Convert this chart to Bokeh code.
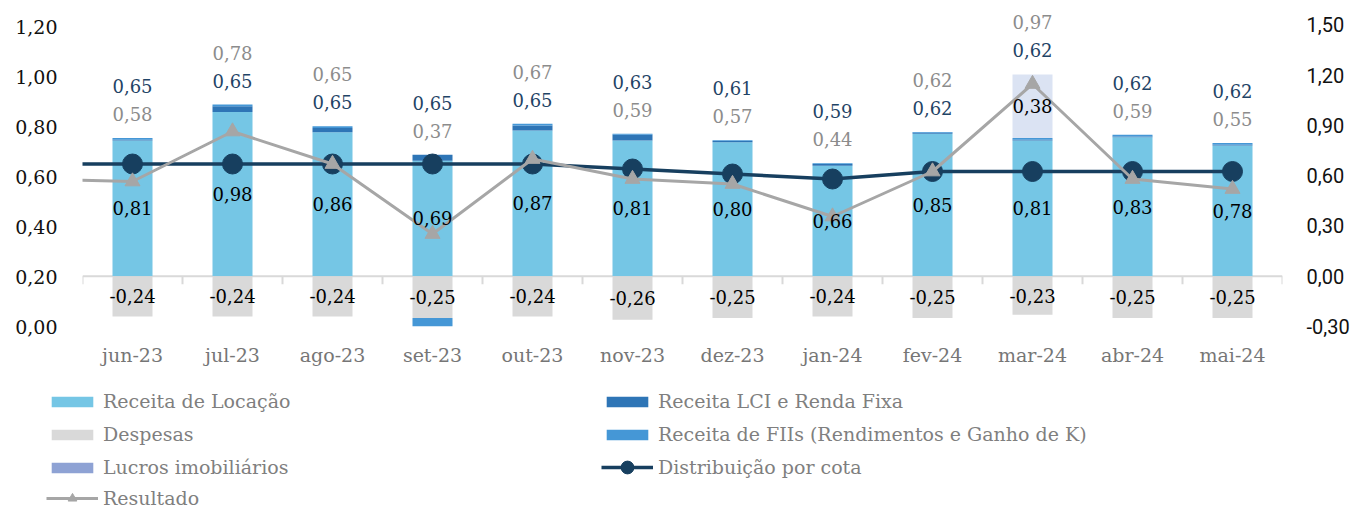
from bokeh.plotting import figure
from bokeh.layouts import column
from bokeh.models import (Range1d, LinearAxis, FixedTicker, CustomJSTickFormatter,
                          ColumnDataSource, Legend, LegendItem, Span)
from bokeh.core.properties import value
from bokeh.embed import file_html
from bokeh.resources import INLINE

# ---------------- data ----------------
months = ["jun-23", "jul-23", "ago-23", "set-23", "out-23", "nov-23",
          "dez-23", "jan-24", "fev-24", "mar-24", "abr-24", "mai-24"]
receita_locacao = [0.81, 0.98, 0.86, 0.69, 0.87, 0.81, 0.80, 0.66, 0.85, 0.81, 0.83, 0.78]
receita_lci = [0.005, 0.035, 0.025, 0.035, 0.03, 0.035, 0.007, 0.01, 0.006, 0.005, 0.005, 0.005]
receita_fii = [0.01, 0.01, 0.01, -0.10, 0.01, 0.005, 0.005, 0.005, 0.005, 0.01, 0.01, 0.01]
lucros_imob = [0, 0, 0, 0, 0, 0, 0, 0, 0, 0.38, 0, 0]
despesas = [-0.24, -0.24, -0.24, -0.25, -0.24, -0.26, -0.25, -0.24, -0.25, -0.23, -0.25, -0.25]
distribuicao = [0.65, 0.65, 0.65, 0.65, 0.65, 0.63, 0.61, 0.59, 0.62, 0.62, 0.62, 0.62]
resultado = [0.58, 0.78, 0.65, 0.37, 0.67, 0.59, 0.57, 0.44, 0.62, 0.97, 0.59, 0.55]
# previous month (mai-23), only visible as the line entering from the left edge
prev_distribuicao = 0.65
prev_resultado = 0.59

left_ticks = [0.0, 0.2, 0.4, 0.6, 0.8, 1.0, 1.2]
right_ticks = [-0.3, 0.0, 0.3, 0.6, 0.9, 1.2, 1.5]

# ---------------- styles ----------------
C_LOC = "#75c6e5"
C_LCI = "#2e75b6"
C_FII = "#4597d6"
C_DESP = "#d9d9d9"
C_LUC = "#8ea2d4"
C_LUC_BAR = "#dbe3f3"
C_DIST = "#173f5f"
C_RES = "#a6a6a6"
SERIF = "DejaVu Serif"


def fmt(v):
    return f"{v:.2f}".replace(".", ",")


n = len(months)
xs = list(range(n))

lci_bottom = list(receita_locacao)
lci_top = [a + b for a, b in zip(receita_locacao, receita_lci)]
fii_bottom = [t if f >= 0 else d + f for t, f, d in zip(lci_top, receita_fii, despesas)]
fii_top = [t + f if f >= 0 else d for t, f, d in zip(lci_top, receita_fii, despesas)]
luc_bottom = [t + max(f, 0) for t, f in zip(lci_top, receita_fii)]
luc_top = [b + l for b, l in zip(luc_bottom, lucros_imob)]

src = ColumnDataSource(dict(
    x=xs, zero=[0] * n,
    loc=receita_locacao, lci_b=lci_bottom, lci_t=lci_top,
    fii_b=fii_bottom, fii_t=fii_top, luc_b=luc_bottom, luc_t=luc_top,
    desp=despesas, dist=distribuicao, res=resultado,
))

# frame: 324 px tall; left axis 250 px/unit, right axis 167.5 px/unit
p = figure(width=1360, height=378, output_backend="svg", toolbar_location=None,
           x_range=Range1d(-0.5, n - 0.5), y_range=Range1d(0, 1.296),
           min_border_left=82, min_border_right=78, min_border_top=2,
           min_border_bottom=52)
p.frame_align = False
p.extra_y_ranges = {"right": Range1d(-0.3, 1.6343)}
p.outline_line_color = None
p.xgrid.visible = False
p.ygrid.visible = False
p.background_fill_color = "white"
p.border_fill_color = "white"

# axes
fmt_js = "return tick.toFixed(2).replace('.', ',');"
p.yaxis.ticker = FixedTicker(ticks=left_ticks)
p.yaxis.formatter = CustomJSTickFormatter(code=fmt_js)
for ax in p.yaxis:
    ax.axis_line_color = None
    ax.major_tick_line_color = None
    ax.minor_tick_line_color = None
    ax.major_tick_out = 0
    ax.major_tick_in = 0
    ax.major_label_standoff = 25
    ax.major_label_text_font = SERIF
    ax.major_label_text_font_size = "19px"
    ax.major_label_text_color = "#111111"

raxis = LinearAxis(y_range_name="right", ticker=FixedTicker(ticks=right_ticks),
                   formatter=CustomJSTickFormatter(code=fmt_js))
raxis.axis_line_color = None
raxis.major_tick_line_color = None
raxis.minor_tick_line_color = None
raxis.major_tick_out = 0
raxis.major_tick_in = 0
raxis.major_label_standoff = 24
raxis.major_label_text_font = "Roboto"
raxis.major_label_text_font_size = "20px"
raxis.major_label_text_color = "#111111"
p.add_layout(raxis, "right")

p.xaxis.ticker = FixedTicker(ticks=xs)
p.xaxis.formatter = CustomJSTickFormatter(args=dict(labels=months),
                                          code="return labels[Math.round(tick)] || '';")
for ax in p.xaxis:
    ax.axis_line_color = None
    ax.major_tick_line_color = None
    ax.minor_tick_line_color = None
    ax.major_tick_out = 0
    ax.major_tick_in = 0
    ax.major_label_standoff = 17
    ax.major_label_text_font = SERIF
    ax.major_label_text_font_size = "19px"
    ax.major_label_text_color = "#767676"

# category axis line at zero of the bar axis, with ticks between categories
p.add_layout(Span(location=0, dimension="width", y_range_name="right",
                  line_color="#d9d9d9", line_width=2, level="underlay"))
bounds = [i - 0.5 for i in range(n + 1)]
p.segment(x0=bounds, x1=bounds, y0=[0] * (n + 1), y1=[-0.048] * (n + 1),
          y_range_name="right", line_color="#d9d9d9", line_width=2, level="underlay")

# stacked bars (right axis)
W = 0.4
p.vbar(x="x", bottom="zero", top="loc", width=W, source=src, y_range_name="right",
       fill_color=C_LOC, line_color=None)
p.vbar(x="x", bottom="lci_b", top="lci_t", width=W, source=src, y_range_name="right",
       fill_color=C_LCI, line_color=None)
p.vbar(x="x", bottom="fii_b", top="fii_t", width=W, source=src, y_range_name="right",
       fill_color=C_FII, line_color=None)
p.vbar(x="x", bottom="desp", top="zero", width=W, source=src, y_range_name="right",
       fill_color=C_DESP, line_color=None)
p.vbar(x="x", bottom="luc_b", top="luc_t", width=W, source=src, y_range_name="right",
       fill_color=C_LUC_BAR, line_color=None)

# lines (left axis)
p.line(x=[-1] + xs, y=[prev_distribuicao] + distribuicao, line_color=C_DIST, line_width=3.5)
p.scatter(x="x", y="dist", source=src, marker="circle", size=20,
          fill_color=C_DIST, line_color=C_DIST)
p.line(x=[-1] + xs, y=[prev_resultado] + resultado, line_color=C_RES, line_width=3)
p.scatter(x="x", y="res", source=src, marker="triangle", size=15,
          fill_color=C_RES, line_color=C_RES)

# data labels
common = dict(text_font=value(SERIF), text_font_size="18px", text_align="center",
              text_baseline="middle", y_range_name="right")
p.text(x=xs, y=[v / 2 for v in receita_locacao], text=[fmt(v) for v in receita_locacao],
       text_color="#000000", **common)
p.text(x=xs, y=[v / 2 for v in despesas], text=[fmt(v) for v in despesas],
       text_color="#000000", **common)
luc_idx = [i for i in xs if lucros_imob[i] > 0]
p.text(x=luc_idx, y=[luc_bottom[i] + lucros_imob[i] / 2 for i in luc_idx],
       text=[fmt(lucros_imob[i]) for i in luc_idx], text_color="#000000", **common)

LOW, HIGH = -24, -52
dist_off = [LOW if r >= d else HIGH for r, d in zip(resultado, distribuicao)]
res_off = [HIGH if r >= d else LOW for r, d in zip(resultado, distribuicao)]
p.text(x=xs, y=luc_top, y_offset=dist_off, text=[fmt(v) for v in distribuicao],
       text_color="#1f4466", **common)
p.text(x=xs, y=luc_top, y_offset=res_off, text=[fmt(v) for v in resultado],
       text_color="#8c8c8c", **common)

# ---------------- legend panel ----------------
lg = figure(width=1360, height=131, output_backend="svg", toolbar_location=None,
            x_range=Range1d(0, 1), y_range=Range1d(0, 1), x_axis_type=None, y_axis_type=None,
            min_border_left=0, min_border_right=0, min_border_top=0, min_border_bottom=0)
lg.frame_align = False
lg.outline_line_color = None
lg.grid.visible = False
lg.background_fill_color = "white"
lg.border_fill_color = "white"

# legend-only renderers: zero-size, placed outside the visible range
off = dict(x=[0.5], bottom=[5], top=[5], width=0)
g_loc = lg.vbar(**off, fill_color=C_LOC, line_color=None)
g_desp = lg.vbar(**off, fill_color=C_DESP, line_color=None)
g_luc = lg.vbar(**off, fill_color=C_LUC, line_color=None)
g_lci = lg.vbar(**off, fill_color=C_LCI, line_color=None)
g_fii = lg.vbar(**off, fill_color=C_FII, line_color=None)
g_res_l = lg.line(x=[0.5, 0.5], y=[5, 5], line_color=C_RES, line_width=3)
g_res_m = lg.scatter(x=[0.5], y=[5], marker="triangle", size=12, fill_color=C_RES, line_color=C_RES)
g_dist_l = lg.line(x=[0.5, 0.5], y=[5, 5], line_color=C_DIST, line_width=3.5)
g_dist_m = lg.scatter(x=[0.5], y=[5], marker="circle", size=14, fill_color=C_DIST, line_color=C_DIST)


def leg_style(glyph_h):
    return dict(orientation="vertical", glyph_width=52, glyph_height=glyph_h, label_standoff=5,
                spacing=11, padding=0, margin=0, border_line_color=None,
                background_fill_alpha=0, label_text_font=SERIF, label_text_font_size="19px",
                label_text_color="#7f7f7f", label_height=18)


leg1 = Legend(items=[
    LegendItem(label="Receita de Locação", renderers=[g_loc]),
    LegendItem(label="Despesas", renderers=[g_desp]),
    LegendItem(label="Lucros imobiliários", renderers=[g_luc]),
], location=(46, 31), **leg_style(13))
leg_res = Legend(items=[
    LegendItem(label="Resultado", renderers=[g_res_l, g_res_m]),
], location=(46, 0), **leg_style(22))
leg2 = Legend(items=[
    LegendItem(label="Receita LCI e Renda Fixa", renderers=[g_lci]),
    LegendItem(label="Receita de FIIs (Rendimentos e Ganho de K)", renderers=[g_fii]),
], location=(601, 64), **leg_style(13))
leg_dist = Legend(items=[
    LegendItem(label="Distribuição por cota", renderers=[g_dist_l, g_dist_m]),
], location=(601, 26), **leg_style(32))
for L in (leg1, leg_res, leg2, leg_dist):
    lg.add_layout(L)

open("out.html", "w").write(file_html(column(p, lg, spacing=0), INLINE))
